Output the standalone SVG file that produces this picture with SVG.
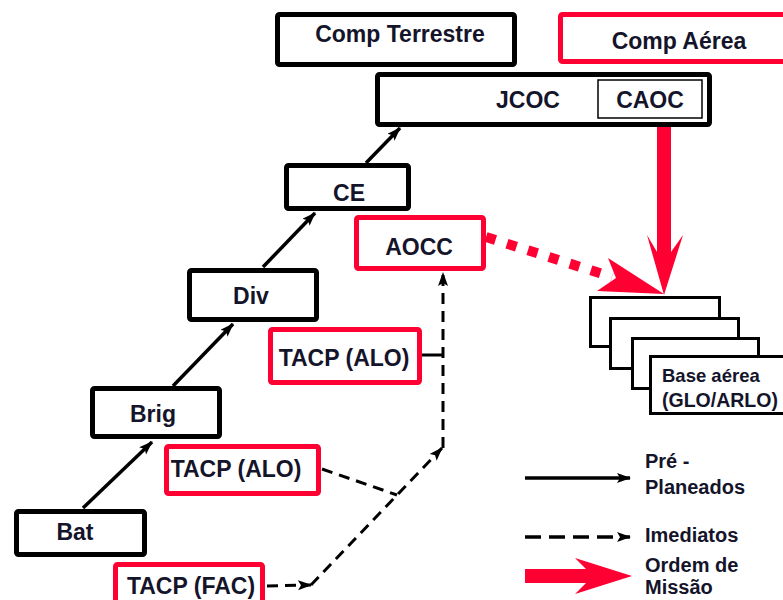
<svg xmlns="http://www.w3.org/2000/svg" width="783" height="600" viewBox="0 0 783 600">
<style>
text{font-family:"Liberation Sans",Arial,sans-serif;font-weight:bold;fill:#14142a;text-anchor:middle;font-size:23px}
.bk{fill:#fff;stroke:#000;stroke-width:5}
.rd{fill:#fff;stroke:#ff0033;stroke-width:5}
.bs{fill:#fff;stroke:#000;stroke-width:3}
.sol{fill:none;stroke:#000;stroke-width:3.5}
.dsh{fill:none;stroke:#000;stroke-width:3;stroke-dasharray:11 7}
.lt{text-anchor:start;font-size:20px}
</style>
<defs>
<marker id="ah" markerUnits="userSpaceOnUse" markerWidth="16" markerHeight="12" refX="13" refY="5" orient="auto">
<path d="M0,0 L14,5 L0,10 L3,5 z" fill="#000"/>
</marker>
</defs>
<rect width="783" height="600" fill="#fff"/>

<g id="connectors">
<line class="sol" x1="83" y1="508" x2="152" y2="442" marker-end="url(#ah)"/>
<line class="sol" x1="173" y1="386" x2="233" y2="324" marker-end="url(#ah)"/>
<line class="sol" x1="263" y1="267" x2="315" y2="213" marker-end="url(#ah)"/>
<line class="sol" x1="366" y1="163" x2="400" y2="128" marker-end="url(#ah)"/>
<line x1="422" y1="355" x2="443" y2="355" stroke="#000" stroke-width="3"/>
<polyline class="dsh" points="322,469 397,495"/>
<line class="dsh" x1="267" y1="586" x2="311" y2="585" marker-end="url(#ah)"/>
<line class="dsh" x1="311" y1="585" x2="442" y2="448" marker-end="url(#ah)"/>
<line class="dsh" x1="443" y1="448" x2="443" y2="273" marker-end="url(#ah)"/>
<line x1="486" y1="237" x2="612" y2="277" stroke="#ff0033" stroke-width="10" stroke-dasharray="10 12"/>
<polygon points="664,294 608,258 616,278 597,291" fill="#ff0033"/>
<polygon points="657,127 671,127 671,252 683,235 664,295 647,235 657,252" fill="#ff0033"/>
</g>

<g id="comp-terrestre"><rect class="bk" x="277.5" y="14.5" width="237" height="50" rx="2"/><text x="400" y="42">Comp Terrestre</text></g>
<g id="comp-aerea"><rect class="rd" x="560.5" y="14.5" width="240" height="47" rx="2"/><text x="679" y="49">Comp Aérea</text></g>
<g id="jcoc"><rect class="bk" x="377.5" y="74.5" width="332" height="50" rx="2"/><text x="528" y="108">JCOC</text>
<g id="caoc"><rect x="598" y="80" width="104" height="38" fill="#fff" stroke="#000" stroke-width="1.5"/><text x="650" y="108">CAOC</text></g></g>
<g id="ce"><rect class="bk" x="286.5" y="165.5" width="122" height="43" rx="2"/><text x="349" y="201">CE</text></g>
<g id="aocc"><rect class="rd" x="356.5" y="217.5" width="127" height="51" rx="2"/><text x="419" y="255">AOCC</text></g>
<g id="div"><rect class="bk" x="189.5" y="270.5" width="127" height="49" rx="2"/><text x="251" y="304">Div</text></g>
<g id="tacp-alo-1"><rect class="rd" x="270.5" y="329.5" width="149" height="53" rx="2"/><text x="344" y="366">TACP (ALO)</text></g>
<g id="brig"><rect class="bk" x="92.5" y="388.5" width="127" height="48" rx="2"/><text x="153" y="422">Brig</text></g>
<g id="tacp-alo-2"><rect class="rd" x="166.5" y="446.5" width="152" height="47" rx="2"/><text x="236" y="477">TACP (ALO)</text></g>
<g id="bat"><rect class="bk" x="16.5" y="511.5" width="128" height="43" rx="2"/><text x="75" y="540">Bat</text></g>
<g id="tacp-fac"><rect class="rd" x="115.5" y="564.5" width="147" height="45" rx="2"/><text x="191" y="594">TACP (FAC)</text></g>

<g id="base-aerea">
<rect class="bs" x="590.5" y="297.5" width="129" height="49"/>
<rect class="bs" x="610.5" y="318.5" width="128" height="50"/>
<rect class="bs" x="632.5" y="338.5" width="126" height="50"/>
<rect class="bs" x="650.5" y="356.5" width="140" height="57"/>
<text class="lt" x="662" y="382" style="font-size:18.5px">Base aérea</text>
<text class="lt" x="662" y="407" style="font-size:19.5px">(GLO/ARLO)</text>
</g>

<g id="legend">
<line class="sol" x1="525" y1="478" x2="630" y2="478" marker-end="url(#ah)"/>
<line x1="525" y1="537" x2="630" y2="537" fill="none" stroke="#000" stroke-width="3.5" stroke-dasharray="16 8" marker-end="url(#ah)"/>
<polygon points="525,569 586,569 575,558 632,576 575,594 586,583 525,583" fill="#ff0033"/>
<text class="lt" x="645" y="468">Pré -</text>
<text class="lt" x="645" y="494">Planeados</text>
<text class="lt" x="645" y="542">Imediatos</text>
<text class="lt" x="645" y="572">Ordem de</text>
<text class="lt" x="645" y="594">Missão</text>
</g>
</svg>
